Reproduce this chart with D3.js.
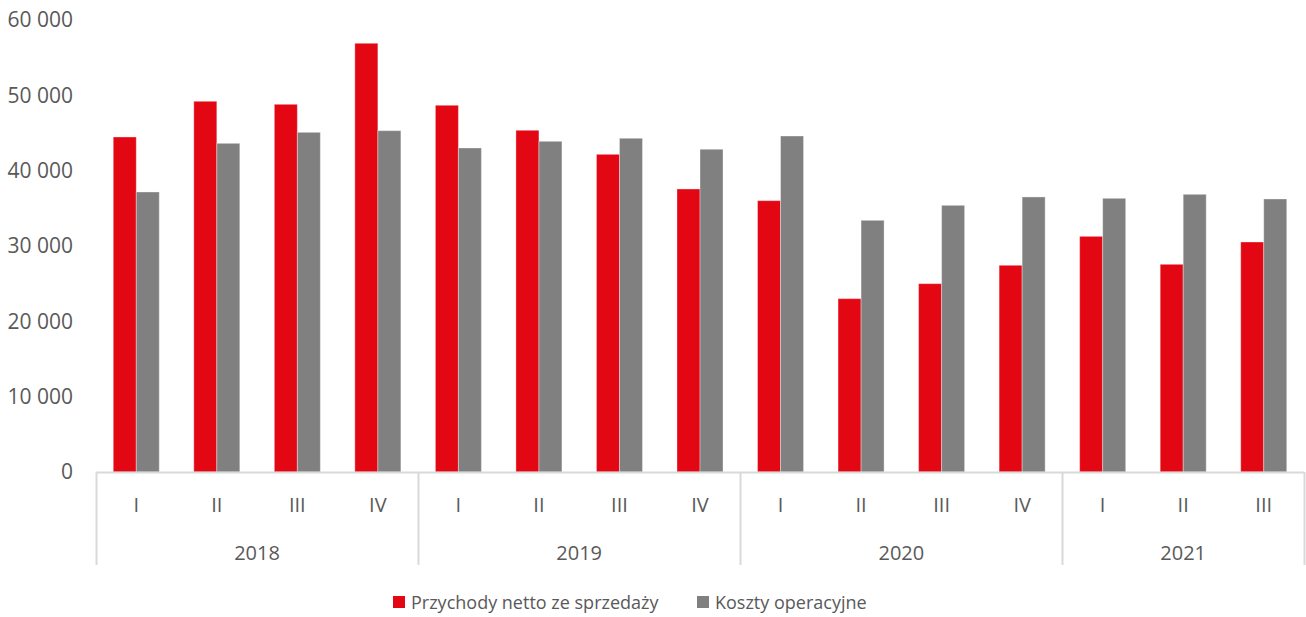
<!DOCTYPE html>
<html>
<head>
<meta charset="utf-8">
<script src="https://cdn.jsdelivr.net/npm/d3@7"></script>
<style>
  html, body { margin: 0; padding: 0; background: #fff; }
  svg { display: block; font-family: "Open Sans", "Liberation Sans", sans-serif; }
</style>
</head>
<body>
<svg id="chart" width="1306" height="617"></svg>
<script>
const years = ["2018", "2019", "2020", "2021"];
const quarters = ["I", "II", "III", "IV", "I", "II", "III", "IV", "I", "II", "III", "IV", "I", "II", "III"];
const quarterYears = ["2018", "2018", "2018", "2018", "2019", "2019", "2019", "2019", "2020", "2020", "2020", "2020", "2021", "2021", "2021"];
const revenue = [44470, 49210, 48810, 56910, 48680, 45360, 42170, 37570, 36020, 23010, 25000, 27440, 31280, 27570, 30530];
const costs = [37170, 43630, 45090, 45310, 43010, 43900, 44300, 42840, 44600, 33410, 35400, 36510, 36330, 36860, 36240];
const seriesNames = ["Przychody netto ze sprzedaży", "Koszty operacyjne"];
const seriesColors = ["#E30613", "#808080"];
const yTicks = [0, 10000, 20000, 30000, 40000, 50000, 60000];

(function () {
const svg = d3.select("#chart");
const mLeft = 96, mRight = 1304, mTop = 20, mBottom = 472;
const textColor = "#595959";
const lineColor = "#d9d9d9";

const keys = quarters.map((q, i) => quarterYears[i] + "-" + q);
const x = d3.scaleBand().domain(keys).range([mLeft, mRight]).paddingInner(0).paddingOuter(0);
const xSub = d3.scaleBand().domain([0, 1]).range([0, x.bandwidth()]).paddingInner(0).paddingOuter(0.75);
const y = d3.scaleLinear().domain([0, 60000]).range([mBottom, mTop]);

const fmt = v => d3.format(",")(v).replace(/,/g, " ");

// y axis labels
const yAxis = d3.axisLeft(y).tickValues(yTicks).tickFormat(fmt).tickSize(0).tickPadding(0);
const gy = svg.append("g").attr("transform", `translate(${73},0)`).call(yAxis);
gy.select(".domain").remove();
gy.selectAll("text").attr("fill", textColor).style("font-size", "21px").style("font-family", '"Open Sans", sans-serif');

// bars
const data = keys.map((k, i) => ({ key: k, vals: [revenue[i], costs[i]] }));
const groups = svg.append("g").selectAll("g").data(data).join("g")
  .attr("transform", d => `translate(${x(d.key)},0)`);
groups.selectAll("rect").data(d => d.vals.map((v, s) => ({ v, s }))).join("rect")
  .attr("x", d => xSub(d.s))
  .attr("width", xSub.bandwidth())
  .attr("y", d => y(d.v))
  .attr("height", d => y(0) - y(d.v))
  .attr("fill", d => seriesColors[d.s])
  .attr("stroke", "rgba(255,255,255,0.35)")
  .attr("stroke-width", 1);

// x axis line
svg.append("line").attr("x1", mLeft).attr("x2", mRight).attr("y1", mBottom + 0.5).attr("y2", mBottom + 0.5)
  .attr("stroke", lineColor).attr("stroke-width", 2);

// quarter labels
svg.append("g").selectAll("text").data(keys).join("text")
  .attr("x", d => x(d) + x.bandwidth() / 2)
  .attr("y", 504)
  .attr("text-anchor", "middle")
  .attr("dominant-baseline", "central")
  .attr("fill", textColor)
  .style("font-size", "20px")
  .text((d, i) => quarters[i]);

// year groups
const yearExtents = years.map(yr => {
  const ks = keys.filter((k, i) => quarterYears[i] === yr);
  return { yr, x0: x(ks[0]), x1: x(ks[ks.length - 1]) + x.bandwidth() };
});
const boundaries = [mLeft].concat(yearExtents.map(e => e.x1));
svg.append("g").selectAll("line").data(boundaries).join("line")
  .attr("x1", d => Math.round(d) + 0.5).attr("x2", d => Math.round(d) + 0.5)
  .attr("y1", mBottom).attr("y2", 565)
  .attr("stroke", lineColor).attr("stroke-width", 2);

svg.append("g").selectAll("text").data(yearExtents).join("text")
  .attr("x", d => (d.x0 + d.x1) / 2)
  .attr("y", 552)
  .attr("text-anchor", "middle")
  .attr("dominant-baseline", "central")
  .attr("fill", textColor)
  .style("font-size", "20px")
  .text(d => d.yr);

// legend
const legendItems = [{ x: 393, s: 0 }, { x: 697, s: 1 }];
const lg = svg.append("g");
legendItems.forEach(it => {
  lg.append("rect").attr("x", it.x).attr("y", 596).attr("width", 12).attr("height", 12).attr("fill", seriesColors[it.s]);
  lg.append("text").attr("x", it.x + 18).attr("y", 602).attr("dominant-baseline", "central")
    .attr("fill", textColor).style("font-size", "18px").text(seriesNames[it.s]);
});
})();
</script>
</body>
</html>
